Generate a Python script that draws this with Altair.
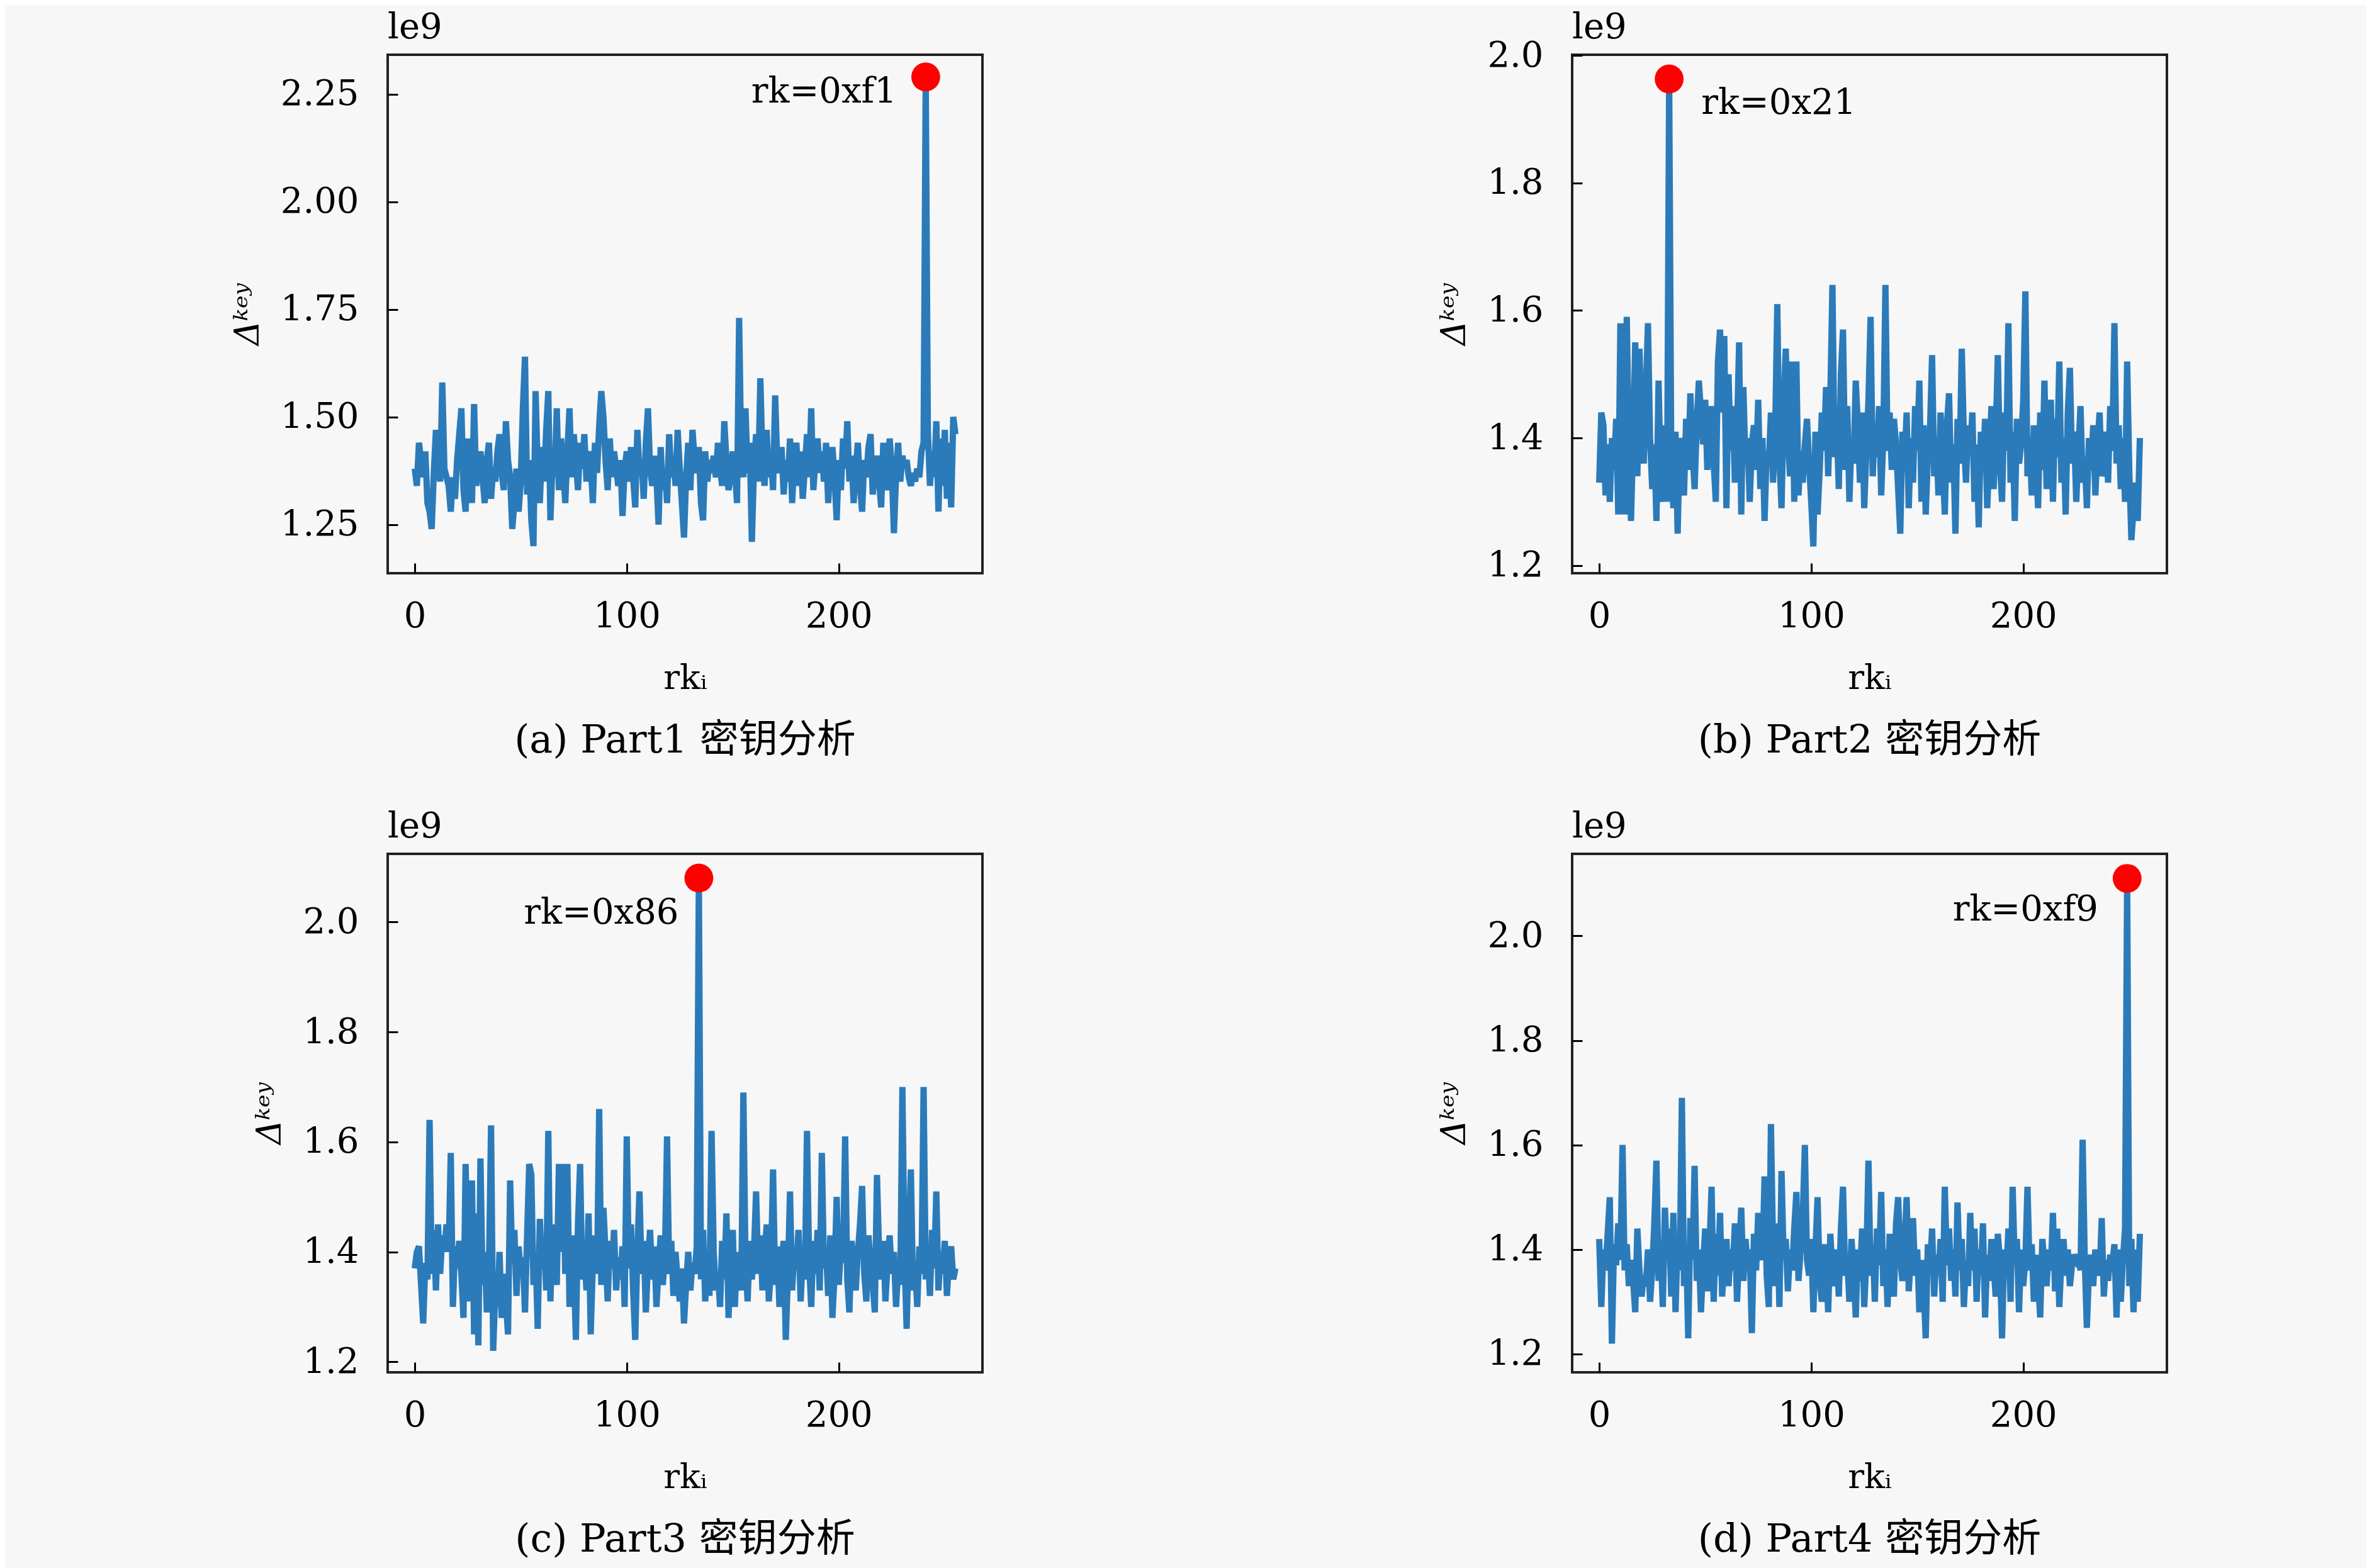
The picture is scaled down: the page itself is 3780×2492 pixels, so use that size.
import altair as alt
import pandas as pd

rk = list(range(256))

part1 = [
    1.38,1.34,1.44,1.40,1.36,1.42,1.30,1.28,1.24,1.37,1.47,1.40,1.35,1.58,1.38,1.36,
    1.34,1.28,1.36,1.31,1.40,1.46,1.52,1.33,1.28,1.45,1.37,1.30,1.53,1.34,1.38,1.42,
    1.36,1.30,1.40,1.44,1.31,1.38,1.35,1.42,1.46,1.37,1.33,1.49,1.40,1.36,1.24,1.30,
    1.38,1.28,1.35,1.52,1.64,1.32,1.40,1.26,1.20,1.56,1.38,1.30,1.43,1.35,1.47,1.56,
    1.26,1.40,1.36,1.52,1.33,1.45,1.38,1.30,1.42,1.52,1.36,1.46,1.40,1.33,1.44,1.38,
    1.46,1.35,1.42,1.39,1.30,1.44,1.37,1.48,1.56,1.50,1.40,1.33,1.45,1.36,1.42,1.38,
    1.34,1.40,1.27,1.38,1.42,1.35,1.43,1.36,1.29,1.47,1.37,1.40,1.31,1.44,1.52,1.38,
    1.34,1.41,1.36,1.25,1.43,1.33,1.38,1.30,1.46,1.36,1.41,1.34,1.47,1.38,1.30,1.22,
    1.36,1.44,1.33,1.47,1.40,1.37,1.43,1.30,1.26,1.42,1.35,1.40,1.37,1.41,1.36,1.44,
    1.38,1.34,1.49,1.40,1.33,1.36,1.42,1.38,1.30,1.73,1.40,1.36,1.52,1.37,1.44,1.21,
    1.38,1.46,1.35,1.59,1.40,1.34,1.47,1.36,1.41,1.33,1.55,1.39,1.37,1.43,1.32,1.40,
    1.35,1.45,1.30,1.40,1.44,1.34,1.42,1.31,1.38,1.46,1.36,1.52,1.33,1.40,1.45,1.37,
    1.42,1.35,1.44,1.30,1.39,1.43,1.36,1.26,1.40,1.33,1.45,1.38,1.49,1.35,1.41,1.30,
    1.38,1.44,1.34,1.28,1.40,1.36,1.43,1.46,1.32,1.38,1.41,1.35,1.29,1.44,1.37,1.33,
    1.45,1.38,1.23,1.36,1.44,1.35,1.41,1.38,1.40,1.36,1.34,1.37,1.35,1.38,1.36,1.42,
    1.44,2.29,1.47,1.34,1.42,1.36,1.49,1.28,1.45,1.34,1.47,1.31,1.44,1.29,1.50,1.46,
]

part2 = [
    1.33,1.44,1.42,1.31,1.39,1.30,1.40,1.35,1.43,1.28,1.58,1.45,1.28,1.59,1.38,1.27,
    1.40,1.55,1.34,1.54,1.42,1.36,1.47,1.58,1.40,1.32,1.39,1.27,1.49,1.34,1.30,1.42,
    1.30,1.963,1.36,1.29,1.41,1.25,1.40,1.37,1.31,1.43,1.35,1.47,1.38,1.32,1.42,1.49,
    1.44,1.39,1.46,1.35,1.41,1.45,1.36,1.30,1.52,1.57,1.44,1.56,1.29,1.50,1.38,1.45,
    1.33,1.41,1.55,1.28,1.48,1.36,1.40,1.30,1.39,1.42,1.35,1.46,1.32,1.40,1.27,1.38,
    1.36,1.44,1.33,1.41,1.61,1.37,1.29,1.45,1.54,1.40,1.34,1.52,1.30,1.52,1.31,1.38,
    1.33,1.39,1.43,1.36,1.30,1.23,1.41,1.28,1.35,1.44,1.38,1.48,1.34,1.46,1.64,1.37,
    1.43,1.32,1.50,1.57,1.35,1.45,1.30,1.40,1.36,1.49,1.42,1.33,1.44,1.29,1.38,1.46,
    1.59,1.34,1.42,1.37,1.45,1.31,1.40,1.64,1.38,1.44,1.35,1.43,1.39,1.32,1.25,1.41,
    1.36,1.44,1.29,1.40,1.33,1.45,1.38,1.49,1.30,1.42,1.28,1.37,1.41,1.53,1.34,1.40,
    1.31,1.44,1.36,1.28,1.42,1.47,1.33,1.39,1.25,1.43,1.36,1.54,1.40,1.33,1.42,1.38,
    1.44,1.30,1.39,1.26,1.41,1.35,1.43,1.29,1.37,1.45,1.32,1.40,1.53,1.36,1.30,1.44,
    1.38,1.58,1.33,1.41,1.27,1.43,1.36,1.39,1.46,1.63,1.34,1.40,1.31,1.42,1.37,1.29,
    1.44,1.35,1.49,1.32,1.40,1.46,1.30,1.43,1.37,1.52,1.33,1.40,1.28,1.44,1.51,1.36,
    1.41,1.30,1.38,1.45,1.33,1.37,1.29,1.40,1.35,1.42,1.31,1.39,1.44,1.34,1.36,1.41,
    1.33,1.45,1.38,1.58,1.36,1.42,1.32,1.40,1.30,1.52,1.35,1.24,1.29,1.33,1.27,1.40,
]

part3 = [
    1.37,1.40,1.41,1.34,1.27,1.38,1.35,1.64,1.36,1.44,1.33,1.45,1.36,1.43,1.40,1.45,
    1.40,1.58,1.30,1.41,1.37,1.42,1.36,1.28,1.56,1.38,1.31,1.53,1.25,1.47,1.23,1.57,
    1.34,1.40,1.29,1.36,1.63,1.22,1.33,1.30,1.40,1.28,1.36,1.31,1.25,1.53,1.38,1.44,
    1.32,1.41,1.36,1.39,1.29,1.43,1.56,1.54,1.34,1.40,1.26,1.46,1.37,1.42,1.33,1.62,
    1.31,1.45,1.38,1.34,1.56,1.40,1.56,1.36,1.56,1.30,1.43,1.38,1.24,1.45,1.56,1.35,
    1.40,1.33,1.47,1.25,1.38,1.43,1.36,1.66,1.34,1.48,1.40,1.31,1.42,1.37,1.44,1.33,
    1.39,1.35,1.41,1.30,1.61,1.37,1.45,1.33,1.24,1.40,1.51,1.36,1.42,1.29,1.38,1.44,
    1.35,1.41,1.30,1.37,1.43,1.34,1.39,1.61,1.36,1.42,1.32,1.40,1.35,1.31,1.37,1.27,
    1.34,1.40,1.33,1.38,1.36,1.41,2.08,1.35,1.44,1.31,1.38,1.32,1.62,1.40,1.33,1.36,
    1.30,1.42,1.35,1.47,1.28,1.39,1.44,1.30,1.40,1.36,1.33,1.69,1.38,1.31,1.42,1.35,
    1.40,1.51,1.36,1.43,1.33,1.39,1.45,1.31,1.37,1.55,1.34,1.41,1.30,1.38,1.42,1.24,
    1.36,1.51,1.33,1.40,1.37,1.44,1.31,1.39,1.35,1.62,1.38,1.30,1.42,1.36,1.44,1.33,
    1.58,1.37,1.40,1.32,1.43,1.28,1.36,1.50,1.34,1.41,1.38,1.61,1.35,1.29,1.42,1.37,
    1.33,1.40,1.45,1.52,1.36,1.31,1.43,1.38,1.34,1.29,1.54,1.40,1.35,1.42,1.31,1.38,
    1.43,1.36,1.40,1.30,1.37,1.34,1.70,1.39,1.26,1.42,1.55,1.33,1.38,1.30,1.41,1.36,
    1.70,1.35,1.40,1.32,1.44,1.37,1.51,1.33,1.40,1.36,1.42,1.32,1.39,1.41,1.35,1.37,
]

part4 = [
    1.42,1.29,1.40,1.36,1.43,1.50,1.22,1.41,1.37,1.45,1.38,1.60,1.36,1.41,1.33,1.38,
    1.34,1.28,1.44,1.36,1.31,1.35,1.33,1.40,1.30,1.36,1.45,1.57,1.34,1.40,1.29,1.48,
    1.38,1.44,1.31,1.47,1.28,1.42,1.36,1.69,1.33,1.41,1.23,1.46,1.38,1.56,1.34,1.40,
    1.28,1.37,1.44,1.32,1.40,1.52,1.30,1.43,1.35,1.47,1.31,1.38,1.42,1.33,1.40,1.36,
    1.45,1.30,1.39,1.48,1.34,1.42,1.37,1.40,1.24,1.43,1.36,1.47,1.40,1.38,1.54,1.35,
    1.29,1.64,1.40,1.33,1.45,1.29,1.55,1.38,1.42,1.32,1.40,1.36,1.44,1.51,1.34,1.40,
    1.46,1.60,1.38,1.35,1.42,1.28,1.40,1.50,1.34,1.30,1.41,1.37,1.28,1.43,1.36,1.33,
    1.40,1.31,1.44,1.52,1.35,1.38,1.30,1.42,1.36,1.27,1.40,1.34,1.44,1.29,1.38,1.57,
    1.35,1.41,1.30,1.44,1.37,1.51,1.33,1.40,1.29,1.43,1.36,1.31,1.45,1.50,1.38,1.34,
    1.41,1.50,1.32,1.39,1.46,1.35,1.40,1.28,1.38,1.33,1.23,1.41,1.36,1.44,1.31,1.39,
    1.35,1.42,1.30,1.52,1.37,1.44,1.34,1.40,1.31,1.49,1.36,1.42,1.29,1.38,1.33,1.47,
    1.36,1.44,1.30,1.40,1.35,1.45,1.27,1.39,1.34,1.42,1.37,1.31,1.43,1.38,1.23,1.40,
    1.35,1.44,1.30,1.52,1.37,1.42,1.28,1.40,1.33,1.38,1.52,1.36,1.41,1.30,1.39,1.34,
    1.27,1.42,1.37,1.33,1.40,1.36,1.47,1.32,1.44,1.29,1.38,1.42,1.35,1.40,1.33,1.37,
    1.39,1.38,1.39,1.36,1.61,1.38,1.25,1.36,1.39,1.33,1.40,1.37,1.35,1.46,1.31,1.38,
    1.34,1.39,1.37,1.41,1.27,1.40,1.30,1.38,1.44,2.11,1.33,1.42,1.28,1.40,1.30,1.43,
]

series = [part1, part2, part3, part4]
peaks = [241, 33, 134, 249]
peak_labels = ["rk=0xf1", "rk=0x21", "rk=0x86", "rk=0xf9"]
captions = ["(a) Part1 密钥分析", "(b) Part2 密钥分析", "(c) Part3 密钥分析", "(d) Part4 密钥分析"]
offset_text = "le9"
x_ticks = [0, 100, 200]
y_ticks = [
    [1.25, 1.50, 1.75, 2.00, 2.25],
    [1.2, 1.4, 1.6, 1.8, 2.0],
    [1.2, 1.4, 1.6, 1.8, 2.0],
    [1.2, 1.4, 1.6, 1.8, 2.0],
]
y_formats = [".2f", ".1f", ".1f", ".1f"]

# layout / style settings
X_DOMAIN = [-12.75, 267.75]
Y_DOMAINS = [[1.137, 2.3415], [1.188, 2.001], [1.181, 2.124], [1.165, 2.157]]
LABEL_ALIGN = ["right", "left", "right", "right"]
LABEL_DX = [-46, 51, -32, -46]
LABEL_DY = [24, 38, 56, 50]
SERIF = "DejaVu Serif, Noto Sans CJK SC"
BLUE = "#2b7bba"
W, H = 945, 824
FS = 56

def panel(k):
    vals = series[k]
    assert len(vals) == 256, (k, len(vals))
    df = pd.DataFrame({"rk": rk, "delta": vals})
    pk = peaks[k]
    pdf = pd.DataFrame({"rk": [pk], "delta": [vals[pk]], "label": [peak_labels[k]]})

    x = alt.X("rk:Q",
              scale=alt.Scale(domain=X_DOMAIN, nice=False, zero=False),
              axis=alt.Axis(values=x_ticks, title="rkᵢ", format="d",
                            grid=False, domain=False, ticks=True,
                            tickSize=16, tickWidth=3, tickColor="black",
                            offset=-16, labelPadding=41, labelFlush=False,
                            labelFont=SERIF, labelFontSize=FS, labelColor="black",
                            titleFont=SERIF, titleFontSize=54, titleFontWeight="normal",
                            titleColor="black", titlePadding=44))
    y = alt.Y("delta:Q",
              scale=alt.Scale(domain=Y_DOMAINS[k], nice=False, zero=False),
              axis=alt.Axis(values=y_ticks[k], format=y_formats[k], title="Δᵏᵉʸ",
                            grid=False, domain=False, ticks=True,
                            tickSize=16, tickWidth=3, tickColor="black",
                            offset=-16, labelPadding=46, labelFlush=False,
                            labelOverlap=False,
                            labelFont=SERIF, labelFontSize=FS, labelColor="black",
                            titleFont=SERIF, titleFontSize=54, titleFontWeight="normal",
                            titleFontStyle="italic",
                            titleColor="black", titlePadding=24))

    line = alt.Chart(df).mark_line(color=BLUE, strokeWidth=10, strokeJoin="miter",
                                   strokeMiterLimit=3).encode(x=x, y=y)
    dot = alt.Chart(pdf).mark_circle(color="#ff0000", size=2100, opacity=1).encode(
        x="rk:Q", y="delta:Q")
    txt = alt.Chart(pdf).mark_text(align=LABEL_ALIGN[k], baseline="middle",
                                   dx=LABEL_DX[k], dy=LABEL_DY[k],
                                   font=SERIF, fontSize=FS, color="black").encode(
        x="rk:Q", y="delta:Q", text="label:N")
    off = alt.Chart(pd.DataFrame({"t": [offset_text]})).mark_text(
        align="left", baseline="alphabetic", font=SERIF, fontSize=FS,
        color="black").encode(x=alt.value(0), y=alt.value(-26), text="t:N")

    return alt.layer(line, dot, txt, off).properties(
        width=W, height=H,
        title=alt.TitleParams(captions[k], orient="bottom", anchor="middle",
                              font=SERIF, fontSize=62, fontWeight="normal",
                              color="black", offset=42))

chart = alt.concat(*[panel(k) for k in range(4)], columns=2,
                   spacing={"row": 446, "column": 937}, bounds="flush").properties(
    padding={"left": 357, "top": 6, "right": 315, "bottom": 30},
    background="#f7f7f7",
).configure_view(stroke="#222222", strokeWidth=4)

chart.save("out.html", embed_options={"renderer": "svg", "actions": False})
